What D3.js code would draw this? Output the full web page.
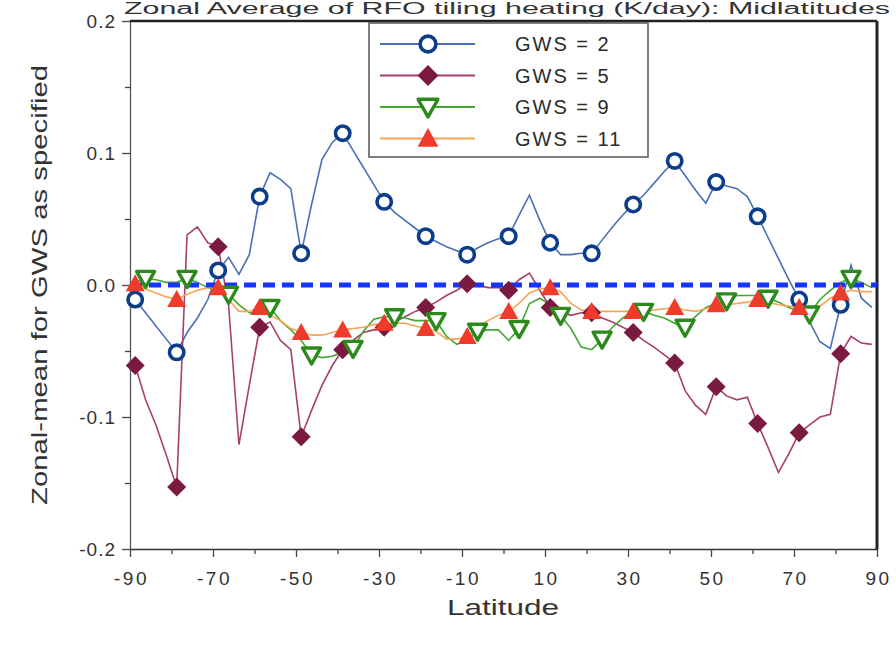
<!DOCTYPE html>
<html>
<head>
<meta charset="utf-8">
<script src="https://cdn.jsdelivr.net/npm/d3@7"></script>
<style>
  body { margin: 0; background: #fff; }
  svg { display: block; font-family: Arial, "Liberation Sans", sans-serif; }
</style>
</head>
<body>
<svg id="chart" width="896" height="649"></svg>
<script>
// latitudes (2.5 deg grid)
const lats = [-88.75,-86.25,-83.75,-81.25,-78.75,-76.25,-73.75,-71.25,-68.75,-66.25,-63.75,-61.25,
  -58.75,-56.25,-53.75,-51.25,-48.75,-46.25,-43.75,-41.25,-38.75,-36.25,-33.75,-31.25,
  -28.75,-26.25,-23.75,-21.25,-18.75,-16.25,-13.75,-11.25,-8.75,-6.25,-3.75,-1.25,
  1.25,3.75,6.25,8.75,11.25,13.75,16.25,18.75,21.25,23.75,26.25,28.75,
  31.25,33.75,36.25,38.75,41.25,43.75,46.25,48.75,51.25,53.75,56.25,58.75,
  61.25,63.75,66.25,68.75,71.25,73.75,76.25,78.75,81.25,83.75,86.25,88.75];

const gws2 = [-0.011,-0.021,-0.031,-0.041,-0.051,-0.036,-0.025,-0.011,0.011,0.021,0.008,0.023,
  0.067,0.085,0.080,0.073,0.024,0.061,0.095,0.108,0.115,0.102,0.089,0.076,
  0.063,0.055,0.049,0.043,0.037,0.033,0.029,0.026,0.023,0.028,0.032,0.035,
  0.037,0.053,0.068,0.049,0.032,0.023,0.023,0.024,0.024,0.034,0.044,0.053,
  0.061,0.068,0.077,0.086,0.094,0.083,0.072,0.062,0.078,0.075,0.073,0.067,
  0.052,0.036,0.020,0.004,-0.011,-0.028,-0.043,-0.048,-0.015,0.015,-0.010,-0.017];

const gws5 = [-0.061,-0.087,-0.106,-0.129,-0.153,0.038,0.044,0.032,0.029,-0.015,-0.121,-0.076,
  -0.032,-0.028,-0.042,-0.049,-0.115,-0.095,-0.076,-0.061,-0.049,-0.042,-0.036,-0.034,
  -0.032,-0.028,-0.024,-0.020,-0.017,-0.013,-0.008,-0.004,0.001,0.000,-0.002,-0.002,
  -0.004,0.004,0.009,-0.004,-0.017,-0.020,-0.023,-0.021,-0.021,-0.025,-0.028,-0.032,
  -0.036,-0.042,-0.047,-0.053,-0.059,-0.080,-0.091,-0.098,-0.077,-0.084,-0.087,-0.085,
  -0.105,-0.123,-0.142,-0.128,-0.112,-0.106,-0.100,-0.098,-0.052,-0.039,-0.044,-0.045];

const gws9 = [0.002,0.005,0.004,0.002,0.002,0.005,0.002,-0.002,-0.005,-0.007,-0.015,-0.021,
  -0.021,-0.017,-0.027,-0.034,-0.042,-0.053,-0.055,-0.054,-0.051,-0.048,-0.035,-0.026,
  -0.024,-0.024,-0.025,-0.027,-0.027,-0.027,-0.039,-0.045,-0.042,-0.035,-0.034,-0.034,
  -0.042,-0.033,-0.014,-0.010,-0.015,-0.023,-0.033,-0.047,-0.049,-0.041,-0.032,-0.025,
  -0.020,-0.020,-0.023,-0.025,-0.029,-0.032,-0.024,-0.017,-0.014,-0.012,-0.008,-0.008,
  -0.008,-0.010,-0.013,-0.017,-0.020,-0.022,-0.011,-0.004,0.002,0.005,0.002,-0.002];

const gws11 = [0.001,-0.003,-0.006,-0.009,-0.011,-0.007,-0.004,-0.002,-0.002,-0.011,-0.020,-0.020,
  -0.017,-0.023,-0.027,-0.033,-0.036,-0.038,-0.038,-0.036,-0.034,-0.033,-0.032,-0.030,
  -0.029,-0.029,-0.029,-0.031,-0.033,-0.035,-0.041,-0.041,-0.039,-0.032,-0.027,-0.023,
  -0.020,-0.014,-0.006,-0.003,-0.002,-0.005,-0.014,-0.019,-0.020,-0.020,-0.020,-0.020,
  -0.020,-0.020,-0.019,-0.018,-0.017,-0.019,-0.020,-0.018,-0.015,-0.015,-0.014,-0.013,
  -0.011,-0.013,-0.015,-0.016,-0.017,-0.017,-0.016,-0.010,-0.006,-0.004,-0.005,-0.005];

const xTicks = [-90,-80,-70,-60,-50,-40,-30,-20,-10,0,10,20,30,40,50,60,70,80,90];
const xLabels = [-90,-70,-50,-30,-10,10,30,50,70,90];
const yTicks = [-0.2,-0.15,-0.1,-0.05,0,0.05,0.1,0.15,0.2];
const yLabels = [-0.2,-0.1,0,0.1,0.2];

const series = [
  {name: "GWS = 2",  values: gws2,  line: "#4a70b5", mark: "#0c3c8c", shape: "circle",  offset: 0},
  {name: "GWS = 5",  values: gws5,  line: "#a8406e", mark: "#7a1a40", shape: "diamond", offset: 0},
  {name: "GWS = 9",  values: gws9,  line: "#42a832", mark: "#2c8a1c", shape: "tridown", offset: 1},
  {name: "GWS = 11", values: gws11, line: "#f7a452", mark: "#ee3b2b", shape: "triup",   offset: 0}
];

const svg = d3.select("#chart");
const margin = {top: 21, right: 19, bottom: 100, left: 130};
const width = 896, height = 649;

const x = d3.scaleLinear().domain([-90, 90]).range([margin.left, width - margin.right]);
const y = d3.scaleLinear().domain([-0.2, 0.2]).range([height - margin.bottom, margin.top]);

const isLabel = (arr, d) => arr.some(v => Math.abs(v - d) < 1e-9);

// title, squeezed into the strip above the frame
svg.append("text")
  .attr("x", 124).attr("y", 14)
  .attr("font-size", 16)
  .attr("fill", "#333")
  .attr("textLength", 766)
  .attr("lengthAdjust", "spacingAndGlyphs")
  .text("Zonal Average of RFO tiling heating (K/day): Midlatitudes");

// axes
const xAxis = svg.append("g")
  .attr("transform", `translate(0,${y(-0.2)})`)
  .call(d3.axisBottom(x).tickValues(xTicks).tickSize(0).tickFormat(""));
xAxis.select(".domain").attr("stroke", "#333").attr("stroke-width", 1.5);
xAxis.selectAll(".tick").append("line")
  .attr("y2", d => xLabels.includes(d) ? 8 : 5)
  .attr("stroke", "#444").attr("stroke-width", 1.3);
xAxis.selectAll(".tick").filter(d => xLabels.includes(d)).append("text")
  .attr("y", 36).attr("fill", "#333").attr("font-size", 19)
  .attr("text-anchor", "middle")
  .attr("letter-spacing", 2.5)
  .attr("dx", 1)
  .text(d => String(d));

const yAxis = svg.append("g")
  .attr("transform", `translate(${x(-90)},0)`)
  .call(d3.axisLeft(y).tickValues(yTicks).tickSize(0).tickFormat(""));
yAxis.select(".domain").attr("stroke", "#555").attr("stroke-width", 1.3);
yAxis.selectAll(".tick").append("line")
  .attr("x2", d => isLabel(yLabels, d) ? -8 : -5)
  .attr("stroke", "#444").attr("stroke-width", 1.3);
yAxis.selectAll(".tick").filter(d => isLabel(yLabels, d)).append("text")
  .attr("x", -14).attr("dy", "0.35em")
  .attr("fill", "#333").attr("font-size", 19)
  .attr("letter-spacing", 1)
  .attr("text-anchor", "end")
  .text(d => d.toFixed(1));

// top and right frame
svg.append("line")
  .attr("x1", x(-90)).attr("x2", x(90)).attr("y1", y(0.2)).attr("y2", y(0.2))
  .attr("stroke", "#222").attr("stroke-width", 2.5);
svg.append("line")
  .attr("x1", x(90)).attr("x2", x(90)).attr("y1", y(0.2)).attr("y2", y(-0.2))
  .attr("stroke", "#222").attr("stroke-width", 3);

// axis titles
svg.append("text")
  .attr("x", 503).attr("y", 615)
  .attr("text-anchor", "middle").attr("font-size", 22).attr("fill", "#333")
  .attr("textLength", 112).attr("lengthAdjust", "spacingAndGlyphs")
  .text("Latitude");
svg.append("text")
  .attr("transform", `translate(47,${y(0)}) rotate(-90)`)
  .attr("text-anchor", "middle").attr("font-size", 22).attr("fill", "#333")
  .attr("textLength", 440).attr("lengthAdjust", "spacingAndGlyphs")
  .text("Zonal-mean for GWS as specified");

// marker drawing
function marker(g, shape, color, s) {
  if (shape === "circle") {
    g.append("circle").attr("r", 7.2 * s)
      .attr("fill", "#fff").attr("stroke", color).attr("stroke-width", 3.6);
  } else if (shape === "diamond") {
    const r = 9.5 * s;
    g.append("path").attr("d", `M0,${-r}L${r},0L0,${r}L${-r},0Z`).attr("fill", color);
  } else if (shape === "tridown") {
    const w = 9 * s;
    g.append("path").attr("d", `M${-w},${-7 * s}L${w},${-7 * s}L0,${9 * s}Z`)
      .attr("fill", "#fff").attr("stroke", color).attr("stroke-width", 3.4)
      .attr("stroke-linejoin", "round");
  } else {
    const w = 9.5 * s;
    g.append("path").attr("d", `M0,${-9.5 * s}L${w},${7.5 * s}L${-w},${7.5 * s}Z`).attr("fill", color);
  }
}

const line = d3.line().x((d, i) => x(lats[i])).y(d => y(d));

series.forEach(s => {
  svg.append("path")
    .attr("d", line(s.values))
    .attr("fill", "none").attr("stroke", s.line).attr("stroke-width", 1.6);
});

// zero line
svg.append("line")
  .attr("x1", x(-90)).attr("x2", x(90)).attr("y1", y(0)).attr("y2", y(0))
  .attr("stroke", "#1634ff").attr("stroke-width", 5)
  .attr("stroke-dasharray", "12,7");

series.forEach(s => {
  s.values.forEach((v, i) => {
    if (i < s.offset || (i - s.offset) % 4 !== 0) return;
    const g = svg.append("g").attr("transform", `translate(${x(lats[i])},${y(v)})`);
    marker(g, s.shape, s.mark, 1);
  });
});

// legend
const legend = svg.append("g").attr("transform", "translate(369,23)");
legend.append("rect")
  .attr("width", 279).attr("height", 134)
  .attr("fill", "#fff").attr("stroke", "#555").attr("stroke-width", 1.5);
series.forEach((s, i) => {
  const ly = 21 + i * 31.5;
  legend.append("line")
    .attr("x1", 11).attr("x2", 106).attr("y1", ly).attr("y2", ly)
    .attr("stroke", s.line).attr("stroke-width", 1.8);
  const g = legend.append("g").attr("transform", `translate(59,${ly})`);
  marker(g, s.shape, s.mark, 1.1);
  legend.append("text")
    .attr("x", 146).attr("y", ly + 7)
    .attr("font-size", 20).attr("fill", "#2a2a2a")
    .attr("letter-spacing", 2)
    .text(s.name);
});
</script>
</body>
</html>
